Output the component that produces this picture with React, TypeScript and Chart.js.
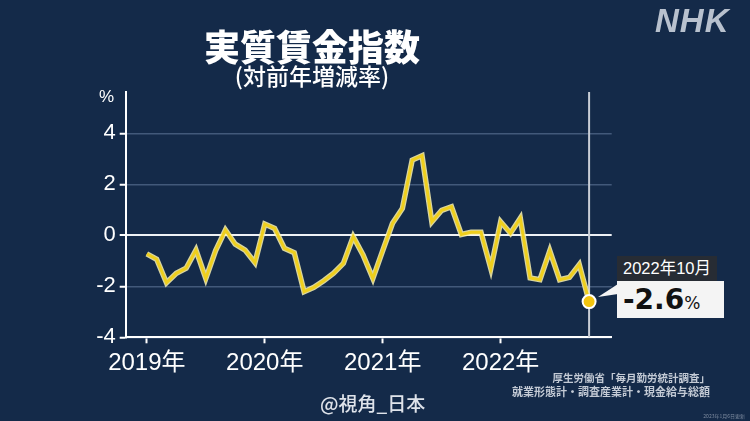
import { useEffect, useRef } from 'react';
import { Chart, registerables } from 'chart.js';

Chart.register(...registerables);

const years = ['2019年', '2020年', '2021年', '2022年'];
const yearTickMonths = [0, 12, 24, 36];
const yTickValues = [-4, -2, 0, 2, 4];
const wage2019 = [-0.73, -0.94, -1.86, -1.49, -1.29, -0.58, -1.69, -0.6, 0.21, -0.35, -0.58, -1.07];
const wage2020 = [0.44, 0.27, -0.51, -0.68, -2.21, -2.04, -1.78, -1.49, -1.1, -0.05, -0.77, -1.69];
const wage2021 = [-0.6, 0.47, 1.05, 2.95, 3.12, 0.53, 0.98, 1.12, 0.03, 0.12, 0.12, -1.3];
const wage2022 = [0.53, 0.08, 0.67, -1.67, -1.74, -0.61, -1.74, -1.65, -1.15, -2.6];
const latestLabel = '2022年10月';
const latestValue = '-2.6';

const BG = '#142a49';
const FONT = "'Liberation Sans', 'Noto Sans CJK JP', sans-serif";
const CJK = "'Noto Sans CJK JP', sans-serif";

export default function App() {
  const ref = useRef<HTMLCanvasElement>(null);

  useEffect(() => {
    document.body.style.margin = '0';
    const values = [...wage2019, ...wage2020, ...wage2021, ...wage2022];
    const points = values.map((v, i) => ({ x: i, y: v }));
    const last = points.length - 1;

    const vline = {
      id: 'vline',
      beforeDatasetsDraw(chart: any) {
        const { ctx, chartArea } = chart;
        const x = chart.scales.x.getPixelForValue(last);
        ctx.save();
        ctx.strokeStyle = '#c9ced6';
        ctx.lineWidth = 2;
        ctx.beginPath();
        ctx.moveTo(x, chartArea.top);
        ctx.lineTo(x, chartArea.bottom);
        ctx.stroke();
        ctx.restore();
      },
    };

    const chart = new Chart(ref.current as HTMLCanvasElement, {
      type: 'line',
      data: {
        datasets: [
          {
            data: points,
            borderColor: '#efcf1d',
            borderWidth: 3,
            pointRadius: (c: any) => (c.dataIndex === last ? 6.5 : 0),
            pointBackgroundColor: '#f3c50f',
            pointBorderColor: '#ffffff',
            pointBorderWidth: 2,
            tension: 0,
            order: 0,
          },
          {
            data: points,
            borderColor: 'rgba(250,242,175,0.85)',
            borderWidth: 5.5,
            pointRadius: 0,
            tension: 0,
            order: 1,
          },
        ],
      },
      options: {
        animation: false,
        responsive: false,
        events: [],
        layout: { padding: { left: 0, top: 92, right: 138.3, bottom: 0 } },
        plugins: { legend: { display: false }, tooltip: { enabled: false } },
        scales: {
          x: {
            type: 'linear',
            min: -2.15,
            max: 47.3,
            afterBuildTicks: (s: any) => {
              s.ticks = yearTickMonths.map((v) => ({ value: v }));
            },
            afterFit: (s: any) => {
              s.height = 421 - 337.3;
            },
            ticks: {
              callback: (v: any) => years[yearTickMonths.indexOf(Number(v))] ?? '',
              color: '#ffffff',
              font: { size: 24, family: FONT },
              padding: 6,
              maxRotation: 0,
              autoSkip: false,
            },
            grid: { drawOnChartArea: false, drawTicks: true, tickLength: 6, tickColor: '#ffffff', tickWidth: 2 },
            border: { color: '#ffffff', width: 2 },
          },
          y: {
            min: -4,
            max: 5.62,
            afterBuildTicks: (s: any) => {
              s.ticks = yTickValues.map((v) => ({ value: v }));
            },
            afterFit: (s: any) => {
              s.width = 125.7;
            },
            ticks: { color: '#ffffff', font: { size: 22, family: FONT }, padding: 4 },
            grid: {
              color: (c: any) => (c.tick && c.tick.value === 0 ? '#eef1f5' : '#42597a'),
              lineWidth: (c: any) => (c.tick && c.tick.value === 0 ? 2 : 1.5),
              tickColor: '#ffffff',
              tickLength: 6,
              tickWidth: 2,
            },
            border: { color: '#ffffff', width: 2 },
          },
        },
      },
      plugins: [vline],
    } as any);
    return () => chart.destroy();
  }, []);

  const abs = (s: any) => ({ position: 'absolute', whiteSpace: 'nowrap', lineHeight: 1, ...s } as any);

  return (
    <div style={{ position: 'absolute', left: 0, top: 0, width: 750, height: 421, background: BG, overflow: 'hidden' }}>
      <canvas ref={ref} width={750} height={421} style={{ position: 'absolute', left: 0, top: 0, width: 750, height: 421 }} />
      <div style={abs({ left: 312, top: 27, transform: 'translateX(-50%)', color: '#fff', fontFamily: CJK, fontWeight: 900, fontSize: 36 })}>実質賃金指数</div>
      <div style={abs({ left: 312, top: 64, transform: 'translateX(-50%)', color: '#fff', fontFamily: CJK, fontWeight: 500, fontSize: 23 })}>(対前年増減率)</div>
      <div style={abs({ right: 750 - 114, top: 88, color: '#fff', fontFamily: FONT, fontSize: 17 })}>%</div>
      <div style={abs({ left: 655, top: 4, color: '#b8c1ce', fontFamily: "'Liberation Sans', sans-serif", fontWeight: 700, fontStyle: 'italic', fontSize: 33, letterSpacing: 1 })}>NHK</div>

      <svg width={750} height={421} style={{ position: 'absolute', left: 0, top: 0 }}>
        <polygon points="598,297 618,284 618,294" fill="#f4f4f4" />
      </svg>
      <div style={abs({ left: 617, top: 256, width: 100, height: 25, background: '#272c34', color: '#fff', fontFamily: FONT, fontSize: 16.5, display: 'flex', alignItems: 'center', justifyContent: 'center' })}>{latestLabel}</div>
      <div style={abs({ left: 617, top: 281, width: 107, height: 37, background: '#f4f4f4', color: '#111', display: 'flex', alignItems: 'center', paddingLeft: 6, boxSizing: 'border-box' })}>
        <span style={{ fontFamily: "'DejaVu Sans', sans-serif", fontWeight: 700, fontSize: 28 }}>{latestValue}</span>
        <span style={{ fontFamily: "'DejaVu Sans', sans-serif", fontSize: 17, marginTop: 8 }}>%</span>
      </div>

      <div style={abs({ right: 40, top: 373, color: '#c3cad5', fontFamily: CJK, fontWeight: 700, fontSize: 10.5, textAlign: 'right' })}>厚生労働省「毎月勤労統計調査」</div>
      <div style={abs({ right: 40, top: 386, color: '#c3cad5', fontFamily: CJK, fontWeight: 700, fontSize: 11, textAlign: 'right' })}>就業形態計・調査産業計・現金給与総額</div>
      <div style={abs({ left: 320, top: 393, color: '#dfe3ea', fontFamily: CJK, fontWeight: 500, fontSize: 19 })}>@視角_日本</div>
      <div style={abs({ right: 5, top: 413, color: '#7f8ca0', fontFamily: CJK, fontSize: 5 })}>2023年1月6日更新</div>
    </div>
  );
}
